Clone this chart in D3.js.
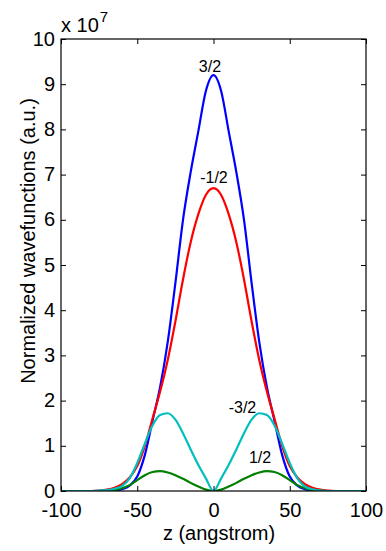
<!DOCTYPE html>
<html>
<head>
<meta charset="utf-8">
<script src="https://cdn.jsdelivr.net/npm/d3@7"></script>
<style>
  html, body { margin: 0; padding: 0; background: #ffffff; }
  svg { display: block; }
  text { font-family: "Liberation Sans", Arial, sans-serif; fill: #000; }
</style>
</head>
<body>
<svg id="chart" width="386" height="551"></svg>
<script>
// Position along growth axis (angstrom)
const zValues = [-100, -90, -80, -75, -70, -65, -60, -55, -50, -45, -40, -35, -30, -25, -20, -15, -10, -5,
                 0, 5, 10, 15, 20, 25, 30, 35, 40, 45, 50, 55, 60, 65, 70, 75, 80, 90, 100];

// Normalized wavefunctions (units of 1e7), one array per spin state
const psi3_2 = [0, 0, 0, 0, 0, 0.01, 0.04, 0.12, 0.32, 0.8, 1.55, 2.3, 3.3, 4.6, 6.0, 7.05, 7.95, 8.85,
                9.2, 8.85, 7.95, 7.05, 6.0, 4.6, 3.3, 2.3, 1.55, 0.8, 0.32, 0.12, 0.04, 0.01, 0, 0, 0, 0, 0];
const psiM1_2 = [0, 0, 0, 0.01, 0.03, 0.07, 0.15, 0.3, 0.55, 1.0, 1.6, 2.2, 2.9, 3.75, 4.68, 5.5, 6.12, 6.55,
                 6.7, 6.55, 6.12, 5.5, 4.68, 3.75, 2.9, 2.2, 1.6, 1.0, 0.55, 0.3, 0.15, 0.07, 0.03, 0.01, 0, 0, 0];
const psiM3_2 = [0, 0, 0, 0.01, 0.02, 0.05, 0.11, 0.28, 0.62, 1.05, 1.45, 1.68, 1.72, 1.58, 1.28, 0.92, 0.58, 0.28,
                 0, 0.28, 0.58, 0.92, 1.28, 1.58, 1.72, 1.68, 1.45, 1.05, 0.62, 0.28, 0.1, 0.04, 0.01, 0, 0, 0, 0];
const psi1_2 = [0, 0, 0, 0, 0.01, 0.02, 0.06, 0.13, 0.24, 0.35, 0.42, 0.44, 0.41, 0.35, 0.27, 0.18, 0.1, 0.03,
                0, 0.03, 0.1, 0.18, 0.27, 0.35, 0.41, 0.44, 0.42, 0.35, 0.24, 0.13, 0.06, 0.02, 0.01, 0, 0, 0, 0];

// Axis ticks
const xTicks = [-100, -50, 0, 50, 100];
const yTicks = [0, 1, 2, 3, 4, 5, 6, 7, 8, 9, 10];

// Curve labels, anchored in data units
const labelText = ["3/2", "-1/2", "-3/2", "1/2"];
const labelZ = [-2.3, 0.3, 19, 30.5];
const labelV = [9.26, 6.82, 1.73, 0.61];

const series = [
  { name: "3/2", values: psi3_2, color: "#0000ff" },
  { name: "-1/2", values: psiM1_2, color: "#ff0000" },
  { name: "1/2", values: psi1_2, color: "#008000" },
  { name: "-3/2", values: psiM3_2, color: "#00bfbf" }
];

const svg = d3.select("#chart");
const margin = { top: 39, right: 20, bottom: 60, left: 61 };
const W = 386, H = 551;
const innerW = W - margin.left - margin.right;
const innerH = H - margin.top - margin.bottom;

const x = d3.scaleLinear().domain([-100, 100]).range([margin.left, margin.left + innerW]);
const y = d3.scaleLinear().domain([0, 10]).range([margin.top + innerH, margin.top]);

// Curves, clipped to the axes box
svg.append("clipPath").attr("id", "plotclip")
  .append("rect")
  .attr("x", margin.left).attr("y", margin.top - 2)
  .attr("width", innerW).attr("height", innerH + 2);

const line = d3.line()
  .x((d, i) => x(zValues[i]))
  .y(d => y(d))
  .curve(d3.curveMonotoneX);

svg.append("g").attr("clip-path", "url(#plotclip)")
  .selectAll("path")
  .data(series)
  .join("path")
  .attr("d", d => line(d.values))
  .attr("fill", "none")
  .attr("stroke", d => d.color)
  .attr("stroke-width", 2.2)
  .attr("stroke-linejoin", "round");

// Axes with inward ticks on all four sides; plain hyphen for negatives
const tickLen = 5;
const plain = d => String(d);
const bottomAxis = d3.axisBottom(x).tickValues(xTicks).tickSize(-tickLen).tickPadding(12).tickFormat(plain);
const topAxis = d3.axisTop(x).tickValues(xTicks).tickSize(-tickLen).tickFormat("");
const leftAxis = d3.axisLeft(y).tickValues(yTicks).tickSize(-tickLen).tickPadding(6).tickFormat(plain);
const rightAxis = d3.axisRight(y).tickValues(yTicks).tickSize(-tickLen).tickFormat("");

function styleAxis(g) {
  g.select(".domain").remove();
  g.selectAll(".tick line").attr("stroke", "#000").attr("stroke-width", 1);
  g.selectAll(".tick text").attr("font-size", 20).attr("fill", "#000")
    .style("font-family", "'Liberation Sans', Arial, sans-serif");
}

svg.append("g").attr("transform", `translate(0,${margin.top + innerH})`).call(bottomAxis).call(styleAxis)
  .selectAll(".tick text").attr("dy", "0.7em");
svg.append("g").attr("transform", `translate(0,${margin.top})`).call(topAxis).call(styleAxis);
svg.append("g").attr("transform", `translate(${margin.left},0)`).call(leftAxis).call(styleAxis)
  .selectAll(".tick text").attr("dy", "0.3em");
svg.append("g").attr("transform", `translate(${margin.left + innerW},0)`).call(rightAxis).call(styleAxis);

// Axes box
svg.append("rect")
  .attr("x", margin.left).attr("y", margin.top)
  .attr("width", innerW).attr("height", innerH)
  .attr("fill", "none").attr("stroke", "#000").attr("stroke-width", 1.2);

// Exponent multiplier
const mult = svg.append("text").attr("x", margin.left).attr("y", 31.5).attr("font-size", 20);
mult.append("tspan").text("x 10");
mult.append("tspan").attr("font-size", 15).attr("dy", -10).attr("dx", 1).text("7");

// Curve labels
svg.append("g").selectAll("text")
  .data(labelText)
  .join("text")
  .attr("x", (d, i) => x(labelZ[i]))
  .attr("y", (d, i) => y(labelV[i]))
  .attr("text-anchor", "middle")
  .attr("font-size", 16)
  .attr("fill", "#222")
  .text(d => d);

// Axis titles
svg.append("text")
  .attr("x", 219).attr("y", 540)
  .attr("text-anchor", "middle").attr("font-size", 20)
  .text("z (angstrom)");

svg.append("text")
  .attr("transform", "translate(35,241) rotate(-90)")
  .attr("text-anchor", "middle").attr("font-size", 20)
  .text("Normalized wavefunctions (a.u.)");
</script>
</body>
</html>
